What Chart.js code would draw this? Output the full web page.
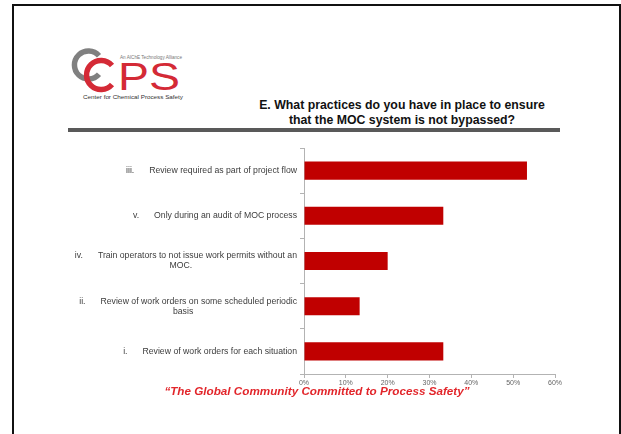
<!DOCTYPE html>
<html>
<head>
<meta charset="utf-8">
<script src="https://cdn.jsdelivr.net/npm/chart.js@4.4.1/dist/chart.umd.min.js"></script>
<style>
  html, body { margin: 0; padding: 0; background: #fff; }
  #slide { position: relative; width: 621px; height: 434px; overflow: hidden; font-family: "Liberation Sans", Arial, sans-serif; }
  #frame { position: absolute; left: 12px; top: 4px; width: 605px; height: 460px; border: 2px solid #111; }
  #chartBox { position: absolute; left: 0; top: 0; width: 621px; height: 434px; }
  #title { position: absolute; left: 227px; top: 98px; width: 350px; text-align: center; font-weight: bold; font-size: 12.3px; line-height: 15px; color: #111; }
  #rule { position: absolute; left: 68px; top: 128px; width: 492px; height: 4px; background: #595959; }
  #footer { position: absolute; left: 117px; top: 384px; width: 400px; text-align: center; font-weight: bold; font-style: italic; font-size: 11.7px; color: #e2262b; }
  #logo { position: absolute; left: 0; top: 0; }
</style>
</head>
<body>
<div id="slide">
  <div id="frame"></div>
  <svg id="logo" width="200" height="110" xmlns="http://www.w3.org/2000/svg">
    <path d="M 99 55.8 A 14 14 0 1 0 99 74.2" fill="none" stroke="#808080" stroke-width="5.5"/>
    <path d="M 112 65.5 A 14.5 14.5 0 1 0 112 84.5" fill="none" stroke="#d42a36" stroke-width="5.5"/>
    <text x="118" y="90" font-family="Liberation Sans, Arial, sans-serif" font-size="39" fill="#d42a36" textLength="62" lengthAdjust="spacingAndGlyphs">PS</text>
    <text x="120" y="59" font-family="Liberation Sans, Arial, sans-serif" font-size="5" fill="#777" textLength="62" lengthAdjust="spacingAndGlyphs">An AIChE Technology Alliance</text>
    <text x="83" y="98.5" font-family="Liberation Sans, Arial, sans-serif" font-size="5.5" fill="#333" textLength="100" lengthAdjust="spacingAndGlyphs">Center for Chemical Process Safety</text>
  </svg>
  <div id="title">E. What practices do you have in place to ensure<br>that the MOC system is not bypassed?</div>
  <div id="rule"></div>
  <div id="chartBox"><canvas id="mocChart"></canvas></div>
  <div id="footer">“The Global Community Committed to Process Safety”</div>
</div>
<script>
// answers, top to bottom as listed on the slide
const numerals = ['iii.', 'v.', 'iv.', 'ii.', 'i.'];
const categories = [
  ['Review required as part of project flow'],
  ['Only during an audit of MOC process'],
  ['Train operators to not issue work permits without an', 'MOC.'],
  ['Review of work orders on some scheduled periodic', 'basis'],
  ['Review of work orders for each situation']
];
// share of respondents, in percent
const shares = [53.3, 33.3, 20.0, 13.3, 33.3];
const tickValues = [0, 10, 20, 30, 40, 50, 60];

const axisGray = '#b3b3b3';
const labelFont = '8.7px "Liberation Sans", Arial, sans-serif';

// draws the numbered answer text next to each bar
const answerLabels = {
  id: 'answerLabels',
  afterDraw(chart) {
    const ctx = chart.ctx;
    const y = chart.scales.y;
    const right = y.right - 7;
    const lineH = 10;
    ctx.save();
    ctx.font = labelFont;
    ctx.fillStyle = '#3c3c3c';
    ctx.textBaseline = 'middle';
    categories.forEach((lines, i) => {
      const yc = y.getPixelForTick(i);
      const y0 = yc - (lines.length - 1) * lineH / 2;
      ctx.textAlign = 'right';
      ctx.fillText(lines[0], right, y0);
      const start = right - ctx.measureText(lines[0]).width;
      const numEnd = start - 15;
      ctx.fillText(numerals[i], numEnd, y0);
      const numStart = numEnd - ctx.measureText(numerals[i]).width;
      ctx.textAlign = 'center';
      for (let k = 1; k < lines.length; k++) {
        ctx.fillText(lines[k], (numStart + right) / 2 - 5, y0 + k * lineH);
      }
    });
    ctx.restore();
  }
};

const ctx = document.getElementById('mocChart').getContext('2d');
const mocChart = new Chart(ctx, {
  type: 'bar',
  data: {
    labels: categories.map((c, i) => numerals[i] + ' ' + c.join(' ')),
    datasets: [{
      label: 'Responses',
      data: shares,
      backgroundColor: '#c00000',
      borderWidth: 0,
      categoryPercentage: 1,
      barPercentage: 0.4
    }]
  },
  options: {
    indexAxis: 'y',
    responsive: true,
    maintainAspectRatio: false,
    animation: false,
    layout: { padding: { left: 300, right: 66, top: 148, bottom: 40 } },
    plugins: {
      legend: { display: false },
      tooltip: { enabled: false }
    },
    scales: {
      x: {
        min: 0,
        max: 60,
        afterFit: scale => { scale.height = 20; },
        afterBuildTicks: scale => { scale.ticks = tickValues.map(v => ({ value: v })); },
        border: { color: axisGray, width: 1 },
        grid: { drawOnChartArea: false, drawTicks: true, tickLength: 4, color: axisGray },
        ticks: {
          padding: 1,
          color: '#666',
          font: { family: '"Liberation Sans", Arial, sans-serif', size: 7 },
          callback: v => v + '%'
        }
      },
      y: {
        afterFit: scale => { scale.width = 4; },
        border: { color: axisGray, width: 1 },
        grid: { offset: true, drawOnChartArea: false, drawTicks: true, tickLength: 4, color: axisGray },
        ticks: { display: false }
      }
    }
  },
  plugins: [answerLabels]
});
</script>
</body>
</html>
